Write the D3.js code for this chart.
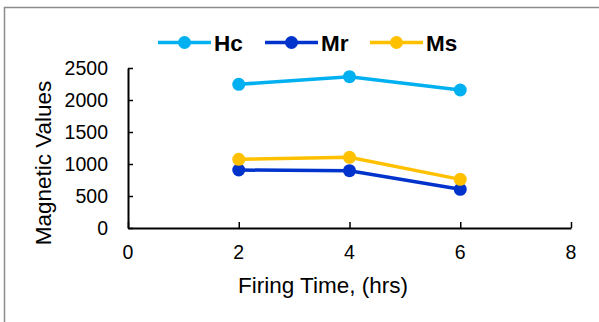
<!DOCTYPE html>
<html>
<head>
<meta charset="utf-8">
<script src="https://cdn.jsdelivr.net/npm/d3@7"></script>
<style>
  body { margin: 0; background: #fff; }
  text { font-family: Arial, "Liberation Sans", sans-serif; }
</style>
</head>
<body>
<div id="container"></div>
<script>
/* DATA */
const times = [2, 4, 6];
const hc = [2245, 2365, 2156];
const mr = [906, 895, 604];
const ms = [1073, 1104, 760];
const seriesNames = ["Hc", "Mr", "Ms"];
const seriesColors = ["#00b0f0", "#0033cc", "#ffc000"];
const xTicks = [0, 2, 4, 6, 8];
const yTicks = [0, 500, 1000, 1500, 2000, 2500];

const width = 599;
const height = 322;

const series = [hc, mr, ms].map((vals, i) => ({
  name: seriesNames[i],
  color: seriesColors[i],
  values: vals.map((v, j) => ({ x: times[j], y: v }))
}));

/* SCALES */
const xScale = d3.scaleLinear().domain([0, 8]).range([128, 571]);
const yScale = d3.scaleLinear().domain([0, 2500]).range([228, 68]);

const svg = d3.select("#container")
  .append("svg")
  .attr("width", width)
  .attr("height", height);

// outer frame
svg.append("rect")
  .attr("x", 4.5).attr("y", 7.5)
  .attr("width", 620).attr("height", 340)
  .attr("fill", "none")
  .attr("stroke", "#8c8c8c")
  .attr("stroke-width", 1.5);

// y axis
const yAxis = svg.append("g")
  .attr("transform", `translate(${xScale(0)},0)`)
  .call(d3.axisRight(yScale).tickValues(yTicks).tickSize(5).tickSizeOuter(0).tickFormat(""));
yAxis.select(".domain").attr("stroke", "#000").attr("stroke-width", 2);
yAxis.selectAll(".tick line").attr("stroke", "#000").attr("stroke-width", 1.5);

svg.selectAll("text.ylab")
  .data(yTicks)
  .join("text")
  .attr("class", "ylab")
  .attr("x", 108)
  .attr("y", d => yScale(d))
  .attr("dy", "0.36em")
  .attr("text-anchor", "end")
  .attr("font-size", 19.5)
  .attr("fill", "#000")
  .text(d => d);

// x axis
const xAxis = svg.append("g")
  .attr("transform", `translate(0,${yScale(0)})`)
  .call(d3.axisTop(xScale).tickValues(xTicks).tickSize(6).tickSizeOuter(0).tickFormat(""));
xAxis.select(".domain").attr("stroke", "#000").attr("stroke-width", 2);
xAxis.selectAll(".tick line").attr("stroke", "#000").attr("stroke-width", 1.5);

svg.selectAll("text.xlab")
  .data(xTicks)
  .join("text")
  .attr("class", "xlab")
  .attr("x", d => xScale(d))
  .attr("y", 252)
  .attr("dy", "0.36em")
  .attr("text-anchor", "middle")
  .attr("font-size", 19.5)
  .attr("fill", "#000")
  .text(d => d);

// axis titles
svg.append("text")
  .attr("x", 323)
  .attr("y", 293)
  .attr("text-anchor", "middle")
  .attr("font-size", 22.5)
  .text("Firing Time, (hrs)");

svg.append("text")
  .attr("transform", "translate(51,163) rotate(-90)")
  .attr("text-anchor", "middle")
  .attr("font-size", 22.5)
  .text("Magnetic Values");

// lines
const line = d3.line().x(d => xScale(d.x)).y(d => yScale(d.y));

const g = svg.selectAll("g.series")
  .data(series)
  .join("g")
  .attr("class", "series");

g.append("path")
  .attr("d", d => line(d.values))
  .attr("fill", "none")
  .attr("stroke", d => d.color)
  .attr("stroke-width", 3.5);

g.selectAll("circle")
  .data(d => d.values.map(v => ({ ...v, color: d.color })))
  .join("circle")
  .attr("cx", d => xScale(d.x))
  .attr("cy", d => yScale(d.y))
  .attr("r", 6.5)
  .attr("fill", d => d.color);

// legend
const legendX = [158, 265, 370];
const legend = svg.selectAll("g.legend")
  .data(series)
  .join("g")
  .attr("class", "legend")
  .attr("transform", (d, i) => `translate(${legendX[i]},42.5)`);

legend.append("line")
  .attr("x1", 0).attr("x2", 53)
  .attr("stroke", d => d.color)
  .attr("stroke-width", 3.5);
legend.append("circle")
  .attr("cx", 26.5)
  .attr("r", 6.5)
  .attr("fill", d => d.color);
legend.append("text")
  .attr("x", 56)
  .attr("dy", "0.36em")
  .attr("font-size", 22.5)
  .attr("font-weight", "bold")
  .text(d => d.name);
</script>
</body>
</html>
